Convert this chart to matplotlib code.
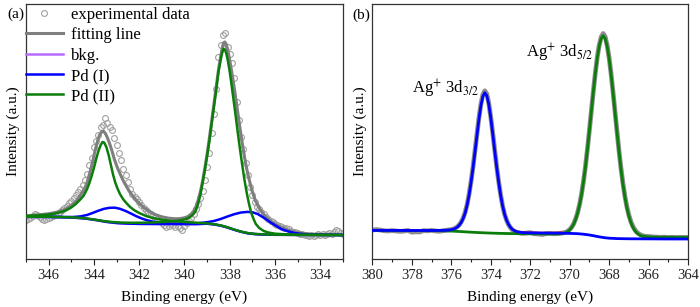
import matplotlib
matplotlib.use('Agg')
import matplotlib.pyplot as plt
from matplotlib.lines import Line2D
from matplotlib.ticker import MultipleLocator

plt.rcParams['font.family'] = ['Liberation Serif', 'DejaVu Serif']
plt.rcParams['mathtext.fontset'] = 'stix'

# ---------------- panel (a): Pd 3d ----------------
# experimental points, 347.0 -> 333.0 eV in 0.1 eV steps
exp_a_x = [347.0, 346.9, 346.8, 346.7, 346.6, 346.5, 346.4, 346.3, 346.2, 346.1,
           346.0, 345.9, 345.8, 345.7, 345.6, 345.5, 345.4, 345.3, 345.2, 345.1,
           345.0, 344.9, 344.8, 344.7, 344.6, 344.5, 344.4, 344.3, 344.2, 344.1,
           344.0, 343.9, 343.8, 343.7, 343.6, 343.5, 343.4, 343.3, 343.2, 343.1,
           343.0, 342.9, 342.8, 342.7, 342.6, 342.5, 342.4, 342.3, 342.2, 342.1,
           342.0, 341.9, 341.8, 341.7, 341.6, 341.5, 341.4, 341.3, 341.2, 341.1,
           341.0, 340.9, 340.8, 340.7, 340.6, 340.5, 340.4, 340.3, 340.2, 340.1,
           340.0, 339.9, 339.8, 339.7, 339.6, 339.5, 339.4, 339.3, 339.2, 339.1,
           339.0, 338.9, 338.8, 338.7, 338.6, 338.5, 338.4, 338.3, 338.2, 338.1,
           338.0, 337.9, 337.8, 337.7, 337.6, 337.5, 337.4, 337.3, 337.2, 337.1,
           337.0, 336.9, 336.8, 336.7, 336.6, 336.5, 336.4, 336.3, 336.2, 336.1,
           336.0, 335.9, 335.8, 335.7, 335.6, 335.5, 335.4, 335.3, 335.2, 335.1,
           335.0, 334.9, 334.8, 334.7, 334.6, 334.5, 334.4, 334.3, 334.2, 334.1,
           334.0, 333.9, 333.8, 333.7, 333.6, 333.5, 333.4, 333.3, 333.2, 333.1,
           333.0]
exp_a_y = [39, 40, 41, 43, 45, 44, 42, 40, 39, 40,
           41, 42, 43, 44, 45, 47, 49, 51, 53, 56,
           58, 61, 64, 67, 70, 74, 79, 85, 94, 101,
           112, 118, 124, 132, 134, 141, 136, 132, 129, 121,
           114, 106, 99, 90, 84, 77, 70, 65, 62, 60,
           57, 54, 51, 49, 47, 45, 43, 42, 40, 38,
           36, 34, 32, 33, 35, 34, 32, 33, 31, 29,
           33, 36, 38, 41, 45, 50, 55, 61, 68, 79,
           92, 106, 126, 145, 170, 202, 214, 224, 226, 212,
           205, 196, 181, 157, 139, 122, 110, 96, 84, 72,
           64, 57, 52, 50, 47, 45, 42, 40, 38, 37,
           35, 34, 33, 32, 31, 31, 30, 28, 27, 27,
           26, 25, 25, 24, 24, 23, 24, 23, 24, 25,
           24, 25, 24, 25, 26, 25, 27, 29, 28, 26,
           25]

fit_a_x = [347.0, 346.5, 346.0, 345.7, 345.4, 345.2, 345.0, 344.8, 344.65, 344.5,
           344.38, 344.28, 344.17, 344.06, 343.95, 343.84, 343.74, 343.64, 343.56, 343.48,
           343.4, 343.3, 343.2, 343.1, 343.0, 342.9, 342.8, 342.7, 342.55, 342.4,
           342.2, 342.0, 341.8, 341.55, 341.3, 341.0, 340.7, 340.4, 340.2, 340.0,
           339.85, 339.7, 339.58, 339.48, 339.38, 339.29, 339.2, 339.1, 339.0, 338.9,
           338.8, 338.7, 338.6, 338.5, 338.42, 338.35, 338.28, 338.22, 338.16, 338.1,
           338.02, 337.95, 337.85, 337.75, 337.65, 337.55, 337.45, 337.35, 337.25, 337.15,
           337.05, 336.95, 336.85, 336.7, 336.55, 336.4, 336.2, 336.0, 335.75, 335.5,
           335.2, 334.9, 334.5, 334.0, 333.0]
fit_a_y = [43.2, 44.0, 45.2, 46.5, 48.5, 50.5, 53.5, 57.5, 62, 67,
           72, 78, 87, 97, 108, 118, 124.5, 127.5, 127.5, 125,
           121, 115, 108, 100, 93.5, 88, 83, 78, 72, 66.5,
           60.5, 55.5, 51.5, 47.5, 44.5, 42.2, 40.8, 40.2, 40.4, 41.2,
           42.5, 45, 48.5, 53, 60, 68, 78, 91, 105, 121,
           138, 155, 172, 189, 200, 209, 216, 217, 215, 210,
           201, 192, 178, 163, 147, 131, 116, 102, 90, 80,
           71, 63.5, 57.5, 51, 46, 42, 38, 35, 32, 29.5,
           27.3, 25.8, 24.8, 24.3, 24.0]

bkg_a_x = [347.0, 346.0, 345.5, 345.0, 344.6, 344.2, 343.9, 343.6, 343.3, 343.0,
           342.6, 342.0, 341.0, 340.0, 339.5, 339.0, 338.7, 338.4, 338.1, 337.8,
           337.5, 337.2, 336.9, 336.5, 336.0, 335.0, 333.0]
bkg_a_y = [42.0, 42.0, 41.8, 41.4, 40.8, 39.8, 38.8, 37.6, 36.6, 35.9,
           35.4, 35.1, 35.0, 35.0, 34.9, 35.3, 34.6, 33.4, 31.5, 29.2,
           27.2, 25.7, 24.9, 24.4, 24.2, 24.1, 24.0]

# Pd(I) components (+ background)
pd1_hi_x = [347.0, 346.0, 345.3, 344.9, 344.6, 344.3, 344.06, 343.8, 343.55, 343.3,
            343.07, 342.85, 342.6, 342.35, 342.13, 341.9, 341.69, 341.4, 341.0, 340.5,
            340.0, 339.5, 339.0, 338.7, 338.4, 338.1, 337.8, 337.5, 337.2, 336.9,
            336.5, 336.0, 335.0, 333.0]
pd1_hi_y = [42.2, 42.2, 42.0, 42.0, 42.6, 44.0, 46.0, 48.3, 50.2, 51.2,
            51.3, 50.2, 48.0, 45.3, 42.8, 40.6, 39.0, 37.3, 35.9, 35.2,
            35.0, 34.9, 35.3, 34.6, 33.4, 31.5, 29.2, 27.2, 25.7, 24.9,
            24.4, 24.2, 24.1, 24.0]
pd1_lo_x = [347.0, 346.0, 345.0, 344.4, 343.9, 343.4, 343.0, 342.5, 342.0, 341.0,
            340.0, 339.6, 339.3, 339.0, 338.7, 338.4, 338.1, 337.8, 337.5, 337.2,
            336.98, 336.77, 336.48, 336.2, 335.95, 335.73, 335.45, 335.14, 334.8, 334.3,
            333.0]
pd1_lo_y = [42.2, 42.1, 41.6, 40.6, 39.0, 37.0, 36.0, 35.4, 35.1, 35.0,
            35.1, 35.4, 36.0, 36.8, 38.0, 40.0, 42.5, 44.8, 46.5, 47.1,
            46.6, 45.0, 41.0, 36.5, 33.0, 30.0, 27.8, 26.0, 25.0, 24.3,
            24.0]

# Pd(II) components (+ background)
pd2_hi_x = [347.0, 346.5, 346.0, 345.7, 345.4, 345.2, 345.0, 344.8, 344.6, 344.45,
            344.3, 344.2, 344.1, 344.0, 343.9, 343.8, 343.7, 343.62, 343.55, 343.45,
            343.35, 343.25, 343.15, 343.05, 342.95, 342.85, 342.7, 342.55, 342.4, 342.2,
            342.0, 341.7, 341.4, 341.0, 340.5, 340.0, 339.5, 339.0, 338.7, 338.4,
            338.1, 337.8, 337.5, 337.2, 336.9, 336.5, 336.0, 335.0, 333.0]
pd2_hi_y = [43.0, 43.6, 44.5, 45.5, 47.2, 49.0, 51.5, 55.0, 59.5, 63.5,
            70, 76, 83, 91, 100, 108, 114, 117, 116.5, 112,
            104, 94, 84, 76, 70, 65, 59.5, 55.5, 52, 48.5,
            46, 43, 41, 39.3, 37.8, 37, 36.3, 35.6, 34.8, 33.6,
            31.7, 29.4, 27.4, 25.9, 25.1, 24.6, 24.3, 24.1, 24.0]
pd2_lo_x = [347.0, 346.0, 345.0, 344.5, 344.0, 343.6, 343.2, 342.8, 342.3, 341.8,
            341.3, 340.8, 340.4, 340.1, 339.9, 339.75, 339.6, 339.5, 339.4, 339.3,
            339.2, 339.1, 339.0, 338.9, 338.8, 338.7, 338.6, 338.5, 338.42, 338.35,
            338.28, 338.22, 338.16, 338.1, 338.02, 337.95, 337.85, 337.75, 337.65, 337.55,
            337.45, 337.35, 337.25, 337.15, 337.05, 336.95, 336.85, 336.7, 336.5, 336.3,
            336.0, 335.5, 335.0, 334.0, 333.0]
pd2_lo_y = [42.2, 42.2, 41.7, 41.0, 39.5, 38.0, 37.0, 36.4, 36.2, 36.3,
            36.6, 37.2, 38.0, 39.0, 40.2, 42, 45, 48.5, 55, 64,
            76, 89, 103, 118, 135, 152, 169, 187, 197, 205,
            210, 209.5, 206, 200, 190, 179, 162, 145, 127, 110,
            94, 79, 66, 55, 46, 40, 35, 31, 28, 26.5,
            25.3, 24.6, 24.3, 24.1, 24.0]

# ---------------- panel (b): Ag 3d ----------------
exp_b_x = [380.0, 379.8, 379.6, 379.4, 379.2, 379.0, 378.8, 378.6, 378.4, 378.2,
           378.0, 377.8, 377.6, 377.4, 377.2, 377.0, 376.8, 376.6, 376.4, 376.2,
           376.0, 375.9, 375.8, 375.7, 375.6, 375.5, 375.4, 375.3, 375.2, 375.1,
           375.0, 374.9, 374.8, 374.7, 374.6, 374.5, 374.4, 374.3, 374.2, 374.1,
           374.0, 373.9, 373.8, 373.7, 373.6, 373.5, 373.4, 373.3, 373.2, 373.1,
           373.0, 372.9, 372.8, 372.7, 372.6, 372.4, 372.2, 372.0, 371.8, 371.6,
           371.4, 371.2, 371.0, 370.8, 370.6, 370.5, 370.4, 370.3, 370.2, 370.1,
           370.0, 369.9, 369.8, 369.7, 369.6, 369.5, 369.4, 369.3, 369.2, 369.1,
           369.0, 368.9, 368.8, 368.7, 368.6, 368.5, 368.4, 368.3, 368.2, 368.1,
           368.0, 367.9, 367.8, 367.7, 367.6, 367.5, 367.4, 367.3, 367.2, 367.1,
           367.0, 366.9, 366.8, 366.7, 366.6, 366.5, 366.4, 366.3, 366.2, 366.0,
           365.8, 365.6, 365.4, 365.2, 365.0, 364.8, 364.6, 364.4, 364.2, 364.0]
exp_b_y = [28.9, 29.4, 29.0, 28.2, 28.0, 28.4, 28.0, 27.6, 27.9, 28.6,
           26.8, 27.2, 27.0, 28.4, 28.1, 28.6, 28.0, 27.7, 28.3, 28.9,
           29.4, 30.0, 30.8, 32.1, 34.0, 36.8, 40.9, 46.5, 54.2, 64.5,
           77.2, 91.6, 107.9, 124.5, 140.8, 154.6, 164.3, 168.2, 165.2, 156.0,
           142.5, 126.4, 109.4, 92.8, 77.8, 64.5, 53.4, 44.9, 38.9, 34.4,
           31.3, 29.1, 27.7, 26.9, 26.3, 25.6, 25.9, 26.4, 25.3, 25.0,
           24.5, 25.3, 25.6, 25.2, 25.4, 25.5, 25.9, 26.2, 26.8, 27.8,
           29.3, 31.8, 35.1, 39.9, 46.0, 54.3, 64.6, 77.5, 92.4, 109.8,
           128.6, 148.1, 167.6, 185.8, 201.9, 214.0, 222.0, 225.5, 222.2, 213.8,
           201.3, 185.2, 166.7, 147.3, 127.5, 108.6, 91.0, 75.8, 62.9, 52.3,
           44.0, 37.6, 32.8, 29.4, 26.9, 25.3, 24.1, 23.3, 22.8, 22.5,
           22.1, 21.9, 21.6, 21.8, 21.5, 21.7, 21.4, 21.6, 21.5, 21.6]

fit_b_x = [372.9, 372.8, 372.6, 372.4, 372.2, 372.0, 371.6, 371.2, 370.8, 370.4]
fit_b_y = [30.0, 28.8, 27.3, 26.8, 26.6, 26.5, 26.3, 26.2, 26.2, 26.6]

ag32_x = [380.0, 379.0, 378.0, 377.0, 376.5, 376.2, 376.0, 375.9, 375.8, 375.7,
          375.6, 375.5, 375.4, 375.3, 375.2, 375.1, 375.0, 374.9, 374.8, 374.7,
          374.6, 374.5, 374.4, 374.3, 374.2, 374.1, 374.0, 373.9, 373.8, 373.7,
          373.6, 373.5, 373.4, 373.3, 373.2, 373.1, 373.0, 372.9, 372.8, 372.7,
          372.6, 372.4, 372.0, 371.5, 371.0, 370.5, 370.0, 369.6, 369.3, 369.0,
          368.8, 368.6, 368.4, 368.2, 368.0, 367.6, 367.0, 366.0, 365.0, 364.0]
ag32_y = [28.6, 28.6, 28.5, 28.5, 28.6, 28.8, 29.3, 29.8, 30.6, 31.8,
          33.7, 36.4, 40.3, 45.8, 53.6, 63.7, 76.3, 90.6, 106.7, 123.2,
          139.4, 153.0, 162.5, 166.3, 163.4, 154.8, 141.6, 125.5, 108.6, 92.1,
          77.3, 64.1, 53.3, 44.9, 39.0, 34.7, 31.6, 29.6, 28.3, 27.4,
          26.9, 26.4, 26.1, 26.0, 25.9, 25.8, 25.6, 25.3, 24.8, 24.0,
          23.3, 22.5, 21.8, 21.2, 20.8, 20.4, 20.2, 20.1, 20.0, 20.0]

ag52_x = [380.0, 378.0, 377.0, 376.5, 376.0, 375.5, 375.0, 374.5, 374.0, 373.5,
          373.0, 372.0, 371.0, 370.5, 370.3, 370.2, 370.1, 370.0, 369.9, 369.8,
          369.7, 369.6, 369.5, 369.4, 369.3, 369.2, 369.1, 369.0, 368.9, 368.8,
          368.7, 368.6, 368.5, 368.4, 368.3, 368.2, 368.1, 368.0, 367.9, 367.8,
          367.7, 367.6, 367.5, 367.4, 367.3, 367.2, 367.1, 367.0, 366.9, 366.8,
          366.7, 366.6, 366.5, 366.4, 366.3, 366.1, 365.8, 365.5, 365.0, 364.0]
ag52_y = [28.5, 28.5, 28.5, 28.3, 27.9, 27.4, 26.8, 26.3, 25.9, 25.6,
          25.4, 25.2, 25.1, 25.2, 25.8, 26.4, 27.5, 29.0, 31.4, 34.7,
          39.4, 45.6, 53.8, 64.2, 77.0, 92.1, 109.3, 128.1, 147.7, 167.1,
          185.3, 201.0, 213.1, 220.8, 223.3, 220.6, 212.7, 200.4, 184.5, 166.1,
          146.5, 126.7, 107.7, 90.3, 75.0, 62.0, 51.4, 43.0, 36.7, 31.9,
          28.5, 26.1, 24.5, 23.4, 22.8, 22.2, 21.9, 21.8, 21.7, 21.7]

gray_pt = '#a0a0a0'
fit_gray = '#7f7f7f'
bkg_purple = '#b56cff'
pd1_blue = '#0000ff'
pd2_green = '#0b7d0b'

fig = plt.figure(figsize=(7, 3.07), dpi=100)
ax1 = fig.add_axes([0.0371, 0.1564, 0.4529, 0.8306])
ax2 = fig.add_axes([0.5319, 0.1564, 0.4510, 0.8306])

ax1.plot(exp_a_x, exp_a_y, 'o', ms=4.2, mfc='none', mec=gray_pt, mew=0.8, zorder=1)
ax1.plot(fit_a_x, fit_a_y, color=fit_gray, lw=2.2, zorder=2)
ax1.plot(bkg_a_x, bkg_a_y, color=bkg_purple, lw=1.8, zorder=3)
ax1.plot(pd1_hi_x, pd1_hi_y, color=pd1_blue, lw=1.8, zorder=4)
ax1.plot(pd1_lo_x, pd1_lo_y, color=pd1_blue, lw=1.8, zorder=4)
ax1.plot(pd2_hi_x, pd2_hi_y, color=pd2_green, lw=1.8, zorder=5)
ax1.plot(pd2_lo_x, pd2_lo_y, color=pd2_green, lw=1.8, zorder=5)

handles = [Line2D([], [], ls='none', marker='o', ms=4.2, mfc='none', mec=gray_pt, mew=0.8),
           Line2D([], [], color=fit_gray, lw=2.2),
           Line2D([], [], color=bkg_purple, lw=1.8),
           Line2D([], [], color=pd1_blue, lw=1.8),
           Line2D([], [], color=pd2_green, lw=1.8)]
labels = ['experimental data', 'fitting line', 'bkg.', 'Pd (I)', 'Pd (II)']
ax1.legend(handles, labels, loc='upper left', bbox_to_anchor=(-0.005, 0.995), frameon=False,
           fontsize=12, handlelength=2.2, handletextpad=0.5, labelspacing=0.26,
           borderaxespad=0.0, borderpad=0.1)

ax2.plot(exp_b_x, exp_b_y, color='#8c8c8c', lw=3.4, zorder=1)
ax2.plot(fit_b_x, fit_b_y, color='#ff2020', lw=1.4, zorder=2)
ax2.plot(ag52_x, ag52_y, color=pd2_green, lw=2.0, zorder=3)
ax2.plot(ag32_x, ag32_y, color=pd1_blue, lw=2.0, zorder=4)

ax2.text(376.27, 170, r'Ag$^{+}$ 3d$_{3/2}$', fontsize=12, ha='center', va='center')
ax2.text(370.5, 206, r'Ag$^{+}$ 3d$_{5/2}$', fontsize=12, ha='center', va='center')

for ax, lo, hi in [(ax1, 347, 333), (ax2, 380, 364)]:
    ax.set_xlim(lo, hi)
    ax.set_ylim(0, 255)
    ax.xaxis.set_major_locator(MultipleLocator(2))
    ax.xaxis.set_minor_locator(MultipleLocator(1))
    ax.set_yticks([])
    ax.tick_params(axis='x', which='major', direction='out', length=4, width=0.8,
                   labelsize=10.5, pad=3.5, colors='#222222')
    ax.tick_params(axis='x', which='minor', direction='out', length=2.2, width=0.8,
                   colors='#222222')
    for s in ax.spines.values():
        s.set_color('#333333')
        s.set_linewidth(0.9)
    ax.set_xlabel('Binding energy (eV)', fontsize=11, labelpad=6)
    ax.set_ylabel('Intensity (a.u.)', fontsize=11, labelpad=4)

fig.text(0.010, 0.952, '(a)', fontsize=11, ha='left', va='center')
fig.text(0.503, 0.950, '(b)', fontsize=11, ha='left', va='center')

fig.savefig('out.png', dpi=100)
